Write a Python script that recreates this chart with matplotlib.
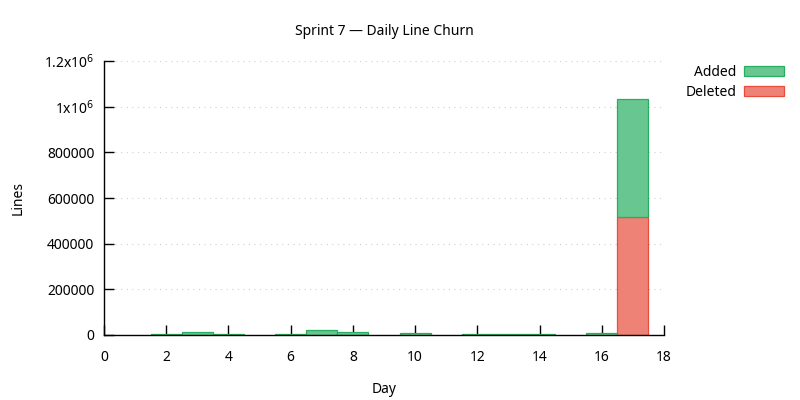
import matplotlib
matplotlib.use("Agg")
import matplotlib.pyplot as plt
from matplotlib.patches import Patch

plt.rcParams['font.family'] = ['Noto Sans', 'DejaVu Sans']

days = [2, 3, 4, 6, 7, 8, 10, 12, 13, 14, 16, 17]
added = [3200, 11000, 3200, 3200, 19500, 11000, 7000, 3500, 3500, 3500, 6000, 517000]
deleted = [300, 800, 300, 300, 1200, 700, 500, 300, 300, 300, 600, 515000]

title = "Sprint 7 \u2014 Daily Line Churn"
yticks = [0, 200000, 400000, 600000, 800000, 1000000, 1200000]
ytick_labels = ["0", "200000", "400000", "600000", "800000",
                r"1x10$^{6}$", r"1.2x10$^{6}$"]
xticks = [0, 2, 4, 6, 8, 10, 12, 14, 16, 18]

green_edge = "#27ae60"
red_edge = "#e74c3c"
green_fill = "#68c690"
red_fill = "#ee8276"

fig = plt.figure(figsize=(8, 4), dpi=100)
ax = fig.add_axes([104 / 800, 65 / 400, (664 - 104) / 800, (335 - 61) / 400])

ax.bar(days, deleted, width=1.0, color=red_fill, edgecolor=red_edge,
       linewidth=0.9, zorder=2)
ax.bar(days, added, width=1.0, bottom=deleted, color=green_fill,
       edgecolor=green_edge, linewidth=0.9, zorder=2)

ax.set_xlim(0, 18)
ax.set_ylim(0, 1200000)
ax.set_xticks(xticks)
ax.set_xticklabels([str(v) for v in xticks])
ax.set_yticks(yticks)
ax.set_yticklabels(ytick_labels)

for s in ["top", "right"]:
    ax.spines[s].set_visible(False)
for s in ["left", "bottom"]:
    ax.spines[s].set_linewidth(1.0)
    ax.spines[s].set_color("black")
    ax.spines[s].set_zorder(3)

ax.tick_params(axis="both", direction="in", length=7, width=1.0,
               labelsize=10, colors="black", pad=7)
ax.tick_params(axis="x", pad=11)
ax.yaxis.grid(True, linestyle=(0, (1, 4)), color="#d0d0d0", linewidth=0.8, zorder=0)
ax.set_axisbelow(True)

ax.set_title(title, fontsize=10, pad=19)
ax.set_xlabel("Day", fontsize=10, labelpad=12)
ax.set_ylabel("Lines", fontsize=10, labelpad=13)

handles = [Patch(facecolor=green_fill, edgecolor=green_edge, linewidth=0.9, label="Added"),
           Patch(facecolor=red_fill, edgecolor=red_edge, linewidth=0.9, label="Deleted")]
fig.legend(handles=handles, loc="upper right", bbox_to_anchor=(784 / 800, 1 - 65 / 400),
           frameon=False, markerfirst=False, fontsize=10, handlelength=2.9,
           handleheight=0.7, labelspacing=0.33, handletextpad=0.55,
           borderaxespad=0, borderpad=0)

fig.savefig("out.png", dpi=100)
